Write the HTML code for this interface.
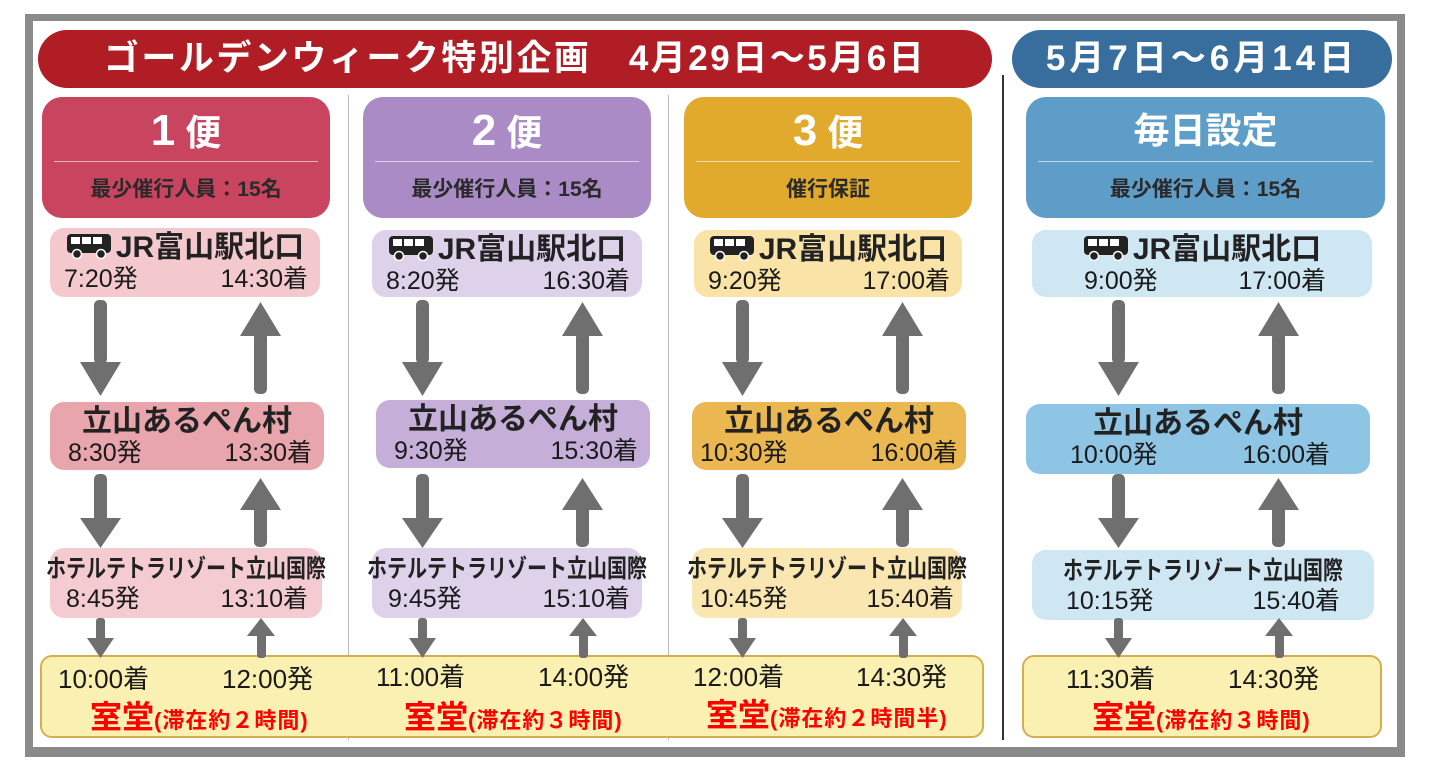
<!DOCTYPE html>
<html><head><meta charset="utf-8"><style>
*{margin:0;padding:0;box-sizing:border-box}
body{width:1448px;height:764px;background:#fff;position:relative;overflow:hidden;font-family:"Liberation Sans","Noto Sans CJK JP",sans-serif;color:#222}
.a{position:absolute}
.frame{left:25px;top:14px;width:1380px;height:743px;border:8px solid #8a8a8a;border-top-width:7px;border-bottom-width:10px;background:#fff}
.bar{border-radius:30px;color:#fff;font-weight:bold;font-size:35px;line-height:58px;text-align:center;white-space:nowrap}
.hd{border-radius:20px;color:#fff;text-align:center}
.hd .t{position:absolute;left:0;right:0;top:12px;font-size:36px;font-weight:bold;line-height:44px}
.hd .t b{font-size:44px}
.hd .ln{position:absolute;left:12px;right:12px;top:64px;height:1px;background:rgba(255,255,255,.6)}
.hd .s{position:absolute;left:0;right:0;top:78px;font-size:21px;font-weight:bold;color:#2a2a2a;line-height:30px}
.st{border-radius:14px}
.st .n{position:absolute;left:0;right:0;top:2px;text-align:center;font-size:30px;font-weight:bold;line-height:36px;white-space:nowrap}
.st .h{position:absolute;left:-60px;right:-60px;top:6px;text-align:center;font-size:25px;font-weight:bold;line-height:30px;white-space:nowrap;transform:scaleX(.8);transform-origin:center}
.st .l,.st .r{position:absolute;top:36px;font-size:25px;line-height:30px;white-space:nowrap;color:#1a1a1a}
.bus{display:inline-block;vertical-align:-2px;margin-right:4px}
.bt{font-size:26px;line-height:30px;white-space:nowrap;color:#1a1a1a}
.rd{color:#f00;font-weight:bold;font-size:32px;white-space:nowrap;line-height:36px}
.rd small{font-size:22px;font-weight:bold;letter-spacing:1px}
</style></head><body>
<div class="a frame"></div>
<div class="a bar" style="left:38px;top:30px;width:954px;height:58px;background:#b01d24;letter-spacing:2.5px">ゴールデンウィーク特別企画　4月29日～5月6日</div>
<div class="a bar" style="left:1012px;top:30px;width:380px;height:58px;background:#376e9d;letter-spacing:4px">5月7日～6月14日</div>
<div class="a" style="left:1002px;top:75px;width:2px;height:665px;background:#333"></div>
<div class="a" style="left:348px;top:95px;width:1px;height:645px;background:#bbb"></div>
<div class="a" style="left:668px;top:95px;width:1px;height:645px;background:#bbb"></div>

<div class="a hd" style="left:42px;top:97px;width:288px;height:121px;background:#c9445f"><div class="t"><b>1</b> 便</div><div class="ln"></div><div class="s">最少催行人員：15名</div></div>
<div class="a hd" style="left:363px;top:97px;width:288px;height:121px;background:#aa8bc5"><div class="t"><b>2</b> 便</div><div class="ln"></div><div class="s">最少催行人員：15名</div></div>
<div class="a hd" style="left:684px;top:97px;width:288px;height:121px;background:#e2aa2c"><div class="t"><b>3</b> 便</div><div class="ln"></div><div class="s">催行保証</div></div>
<div class="a hd" style="left:1026px;top:97px;width:359px;height:121px;background:#5e9dc7"><div class="t">毎日設定</div><div class="ln"></div><div class="s">最少催行人員：15名</div></div>

<div class="a st" style="left:50px;top:228px;width:270px;height:69px;background:#f4c9cd"><div class="n"><svg class="bus" width="46" height="26" viewBox="0 0 46 26"><rect x="1" y="1" width="44" height="19" rx="4" fill="#222"/><rect x="5" y="4" width="9" height="7" fill="#fff"/><rect x="16" y="4" width="9" height="7" fill="#fff"/><rect x="27" y="4" width="9" height="7" fill="#fff"/><circle cx="11" cy="21" r="4.5" fill="#222" stroke="#fff" stroke-width="1.5"/><circle cx="35" cy="21" r="4.5" fill="#222" stroke="#fff" stroke-width="1.5"/></svg>JR富山駅北口</div><div class="l" style="left:14px">7:20発</div><div class="r" style="right:12px">14:30着</div></div>
<div class="a st" style="left:50px;top:402px;width:274px;height:68px;background:#e8a5ab"><div class="n">立山あるぺん村</div><div class="l" style="left:18px">8:30発</div><div class="r" style="right:12px">13:30着</div></div>
<div class="a st" style="left:50px;top:548px;width:272px;height:70px;background:#f4cbd0"><div class="h">ホテルテトラリゾート立山国際</div><div class="l" style="left:16px">8:45発</div><div class="r" style="right:14px">13:10着</div></div>

<div class="a st" style="left:372px;top:230px;width:270px;height:67px;background:#ded2eb"><div class="n"><svg class="bus" width="46" height="26" viewBox="0 0 46 26"><rect x="1" y="1" width="44" height="19" rx="4" fill="#222"/><rect x="5" y="4" width="9" height="7" fill="#fff"/><rect x="16" y="4" width="9" height="7" fill="#fff"/><rect x="27" y="4" width="9" height="7" fill="#fff"/><circle cx="11" cy="21" r="4.5" fill="#222" stroke="#fff" stroke-width="1.5"/><circle cx="35" cy="21" r="4.5" fill="#222" stroke="#fff" stroke-width="1.5"/></svg>JR富山駅北口</div><div class="l" style="left:14px">8:20発</div><div class="r" style="right:12px">16:30着</div></div>
<div class="a st" style="left:376px;top:400px;width:274px;height:68px;background:#c5afd9"><div class="n">立山あるぺん村</div><div class="l" style="left:18px">9:30発</div><div class="r" style="right:12px">15:30着</div></div>
<div class="a st" style="left:372px;top:548px;width:270px;height:70px;background:#ded2eb"><div class="h">ホテルテトラリゾート立山国際</div><div class="l" style="left:16px">9:45発</div><div class="r" style="right:12px">15:10着</div></div>

<div class="a st" style="left:694px;top:230px;width:268px;height:67px;background:#f9e3a7"><div class="n"><svg class="bus" width="46" height="26" viewBox="0 0 46 26"><rect x="1" y="1" width="44" height="19" rx="4" fill="#222"/><rect x="5" y="4" width="9" height="7" fill="#fff"/><rect x="16" y="4" width="9" height="7" fill="#fff"/><rect x="27" y="4" width="9" height="7" fill="#fff"/><circle cx="11" cy="21" r="4.5" fill="#222" stroke="#fff" stroke-width="1.5"/><circle cx="35" cy="21" r="4.5" fill="#222" stroke="#fff" stroke-width="1.5"/></svg>JR富山駅北口</div><div class="l" style="left:14px">9:20発</div><div class="r" style="right:12px">17:00着</div></div>
<div class="a st" style="left:692px;top:402px;width:274px;height:68px;background:#ebb750"><div class="n">立山あるぺん村</div><div class="l" style="left:8px">10:30発</div><div class="r" style="right:8px">16:00着</div></div>
<div class="a st" style="left:692px;top:548px;width:270px;height:70px;background:#f9e6b1"><div class="h">ホテルテトラリゾート立山国際</div><div class="l" style="left:8px">10:45発</div><div class="r" style="right:8px">15:40着</div></div>

<div class="a st" style="left:1032px;top:230px;width:340px;height:67px;background:#cfe6f3"><div class="n"><svg class="bus" width="46" height="26" viewBox="0 0 46 26"><rect x="1" y="1" width="44" height="19" rx="4" fill="#222"/><rect x="5" y="4" width="9" height="7" fill="#fff"/><rect x="16" y="4" width="9" height="7" fill="#fff"/><rect x="27" y="4" width="9" height="7" fill="#fff"/><circle cx="11" cy="21" r="4.5" fill="#222" stroke="#fff" stroke-width="1.5"/><circle cx="35" cy="21" r="4.5" fill="#222" stroke="#fff" stroke-width="1.5"/></svg>JR富山駅北口</div><div class="l" style="left:52px">9:00発</div><div class="r" style="right:46px">17:00着</div></div>
<div class="a st" style="left:1026px;top:404px;width:344px;height:70px;background:#8ec4e4"><div class="n">立山あるぺん村</div><div class="l" style="left:44px">10:00発</div><div class="r" style="right:40px">16:00着</div></div>
<div class="a st" style="left:1032px;top:550px;width:342px;height:70px;background:#cfe6f3"><div class="h">ホテルテトラリゾート立山国際</div><div class="l" style="left:34px">10:15発</div><div class="r" style="right:34px">15:40着</div></div>

<div class="a" style="left:40px;top:655px;width:944px;height:83px;border:2px solid #d6ae52;border-radius:12px;background:#faf0b2"></div>
<div class="a" style="left:1022px;top:655px;width:360px;height:83px;border:2px solid #d6ae52;border-radius:12px;background:#faf0b2"></div>

<svg class="a" style="left:0;top:0" width="1448" height="764">
<g fill="#6f6f6f">
<g id="c1">
<rect x="94" y="300" width="13" height="64" rx="5"/><polygon points="80,362 121,362 100.5,396"/>
<rect x="254" y="332" width="13" height="62" rx="5"/><polygon points="240,336 281,336 260.5,302"/>
<rect x="94" y="474" width="13" height="48" rx="5"/><polygon points="80,518 121,518 100.5,548"/>
<rect x="254" y="505" width="13" height="42" rx="5"/><polygon points="240,510 281,510 260.5,478"/>
<rect x="96" y="618" width="9" height="24" rx="3"/><polygon points="87,638 114,638 100.5,658"/>
<rect x="257" y="632" width="9" height="26" rx="3"/><polygon points="247,636 275,636 261,618"/>
</g>
<use href="#c1" x="322" y="0"/>
<use href="#c1" x="642" y="0"/>
<use href="#c1" x="1018" y="0"/>
</g>
</svg>

<div class="a bt" style="left:58px;top:664px">10:00着</div><div class="a bt" style="left:222px;top:664px">12:00発</div>
<div class="a rd" style="left:90px;top:699px">室堂<small>(滞在約２時間)</small></div>
<div class="a bt" style="left:376px;top:662px">11:00着</div><div class="a bt" style="left:538px;top:662px">14:00発</div>
<div class="a rd" style="left:404px;top:699px">室堂<small>(滞在約３時間)</small></div>
<div class="a bt" style="left:693px;top:662px">12:00着</div><div class="a bt" style="left:856px;top:662px">14:30発</div>
<div class="a rd" style="left:706px;top:697px">室堂<small>(滞在約２時間半)</small></div>
<div class="a bt" style="left:1066px;top:664px">11:30着</div><div class="a bt" style="left:1228px;top:664px">14:30発</div>
<div class="a rd" style="left:1092px;top:699px">室堂<small>(滞在約３時間)</small></div>
</body></html>
